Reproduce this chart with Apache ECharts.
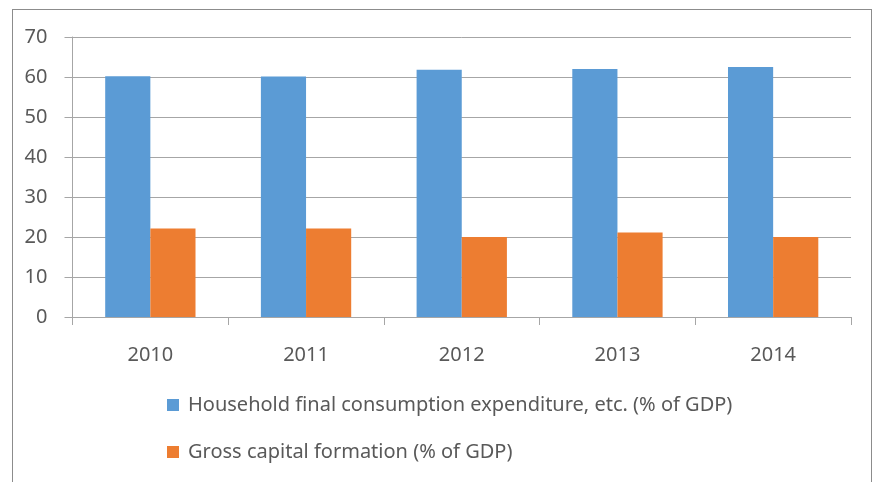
<!DOCTYPE html>
<html>
<head>
<meta charset="utf-8">
<script src="https://cdn.jsdelivr.net/npm/echarts@6/dist/echarts.min.js"></script>
<style>
    html, body { margin: 0; padding: 0; background: #fff; }
    #main { position: absolute; left: 0; top: 0; width: 876px; height: 482px; }
    #frame {
        position: absolute; left: 12px; top: 9px; width: 860px; height: 480px;
        border: 1.5px solid #8c8c8c; border-bottom: none; box-sizing: border-box;
    }
</style>
</head>
<body>
<div id="frame"></div>
<div id="main"></div>
<script>
const years = ['2010', '2011', '2012', '2013', '2014']
const householdName = 'Household final consumption expenditure, etc. (% of GDP)'
const capitalName = 'Gross capital formation (% of GDP)'
const household = [60.2, 60.1, 61.8, 62.0, 62.5]
const capital = [22.1, 22.1, 20.0, 21.1, 20.0]

const fontFamily = 'Noto Sans'
const textColor = '#595959'
const lineColor = '#a6a6a6'

let chartDom = document.getElementById('main')
let myChart = echarts.init(chartDom, null, { renderer: 'canvas' })
let option = {
    animation: false,
    textStyle: { fontFamily: fontFamily },
    grid: { left: 72.5, right: 25, top: 37, bottom: 165 },
    legend: {
        orient: 'vertical',
        left: 162,
        top: 389,
        itemWidth: 12,
        itemHeight: 12,
        itemGap: 25,
        icon: 'rect',
        textStyle: { fontSize: 20, color: textColor, lineHeight: 22, fontFamily: fontFamily, padding: [0, 0, 0, 4] },
        data: [householdName, capitalName]
    },
    xAxis: {
        type: 'category',
        data: years,
        axisLine: { lineStyle: { color: lineColor } },
        axisTick: { show: true, length: 8, lineStyle: { color: lineColor } },
        axisLabel: { fontSize: 20, color: textColor, margin: 28 }
    },
    yAxis: {
        type: 'value',
        min: 0,
        max: 70,
        interval: 10,
        axisLine: { show: true, lineStyle: { color: lineColor } },
        axisTick: { show: true, length: 8, lineStyle: { color: lineColor } },
        splitLine: { lineStyle: { color: lineColor } },
        axisLabel: { fontSize: 20, color: textColor, margin: 25 }
    },
    series: [
        {
            name: householdName,
            type: 'bar',
            data: household,
            barGap: '0%',
            barCategoryGap: '42%',
            itemStyle: { color: '#5b9bd5' }
        },
        {
            name: capitalName,
            type: 'bar',
            data: capital,
            itemStyle: { color: '#ed7d31' }
        }
    ]
}

option && myChart.setOption(option)
</script>
</body>
</html>
